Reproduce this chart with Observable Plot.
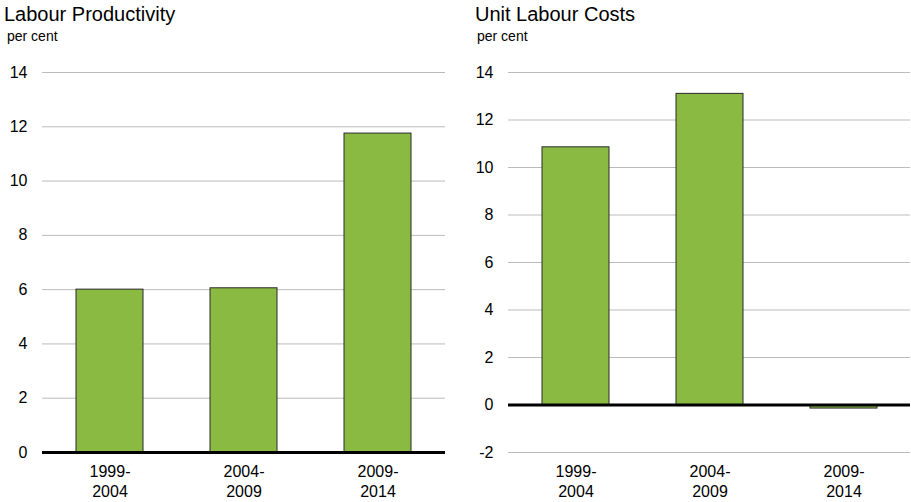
<!DOCTYPE html>
<html>
<head>
<meta charset="utf-8">
<script src="https://cdn.jsdelivr.net/npm/d3@7"></script>
<script src="https://cdn.jsdelivr.net/npm/@observablehq/plot@0.6"></script>
<style>
  body { margin: 0; background: #fff; font-family: "Liberation Sans", Arial, sans-serif; }
  #wrap { position: relative; width: 911px; height: 502px; overflow: hidden; }
  .title { position: absolute; font-size: 20px; line-height: 23px; color: #000; white-space: nowrap; }
  .unit { position: absolute; font-size: 14px; line-height: 16px; color: #000; white-space: nowrap; }
  .panel { position: absolute; }
</style>
</head>
<body>
<div id="wrap">
  <div class="title" style="left:4px; top:3px;">Labour Productivity</div>
  <div class="unit" style="left:7px; top:28px;">per cent</div>
  <div class="title" style="left:475px; top:3px;">Unit Labour Costs</div>
  <div class="unit" style="left:477px; top:28px;">per cent</div>
  <div class="panel" id="left" style="left:0px; top:50px;"></div>
  <div class="panel" id="right" style="left:466px; top:50px;"></div>
</div>
<script>
const periods = ["1999-2004", "2004-2009", "2009-2014"];
const productivity = [6.0, 6.05, 11.75];
const unitLabourCosts = [10.85, 13.1, -0.15];
const productivityTicks = [0, 2, 4, 6, 8, 10, 12, 14];
const costTicks = [-2, 0, 2, 4, 6, 8, 10, 12, 14];

function panel(values, domain, ticks, width, marginLeft, marginRight) {
  const data = periods.map((p, i) => ({period: p, value: values[i]}));
  return Plot.plot({
    width,
    height: 452,
    marginTop: 22,
    marginBottom: 50,
    marginLeft,
    marginRight,
    style: {fontFamily: "Liberation Sans, Arial, sans-serif", fontSize: "16px", color: "#000", background: "transparent"},
    x: {domain: periods, paddingInner: 0.5, paddingOuter: 0.25, label: null, axis: null},
    y: {domain, ticks, label: null, tickSize: 0, tickPadding: 15, tickFormat: d => String(d)},
    marks: [
      Plot.gridY(ticks, {stroke: "#bbbbbb", strokeOpacity: 1, strokeWidth: 1}),
      Plot.barY(data, {x: "period", y: "value", fill: "#8aba42", stroke: "#2b2b2b", strokeWidth: 1}),
      Plot.ruleY([0], {stroke: "#000", strokeWidth: 3}),
      Plot.text(periods, {x: d => d, text: d => d.split("-")[0] + "-", frameAnchor: "bottom", lineAnchor: "top", dy: 13, fontSize: 16, fill: "#000"}),
      Plot.text(periods, {x: d => d, text: d => d.split("-")[1], frameAnchor: "bottom", lineAnchor: "top", dy: 33, fontSize: 16, fill: "#000"})
    ]
  });
}

document.getElementById("left").appendChild(panel(productivity, [0, 14], productivityTicks, 455, 42, 10));
document.getElementById("right").appendChild(panel(unitLabourCosts, [-2, 14], costTicks, 445, 42, 1));
</script>
</body>
</html>
